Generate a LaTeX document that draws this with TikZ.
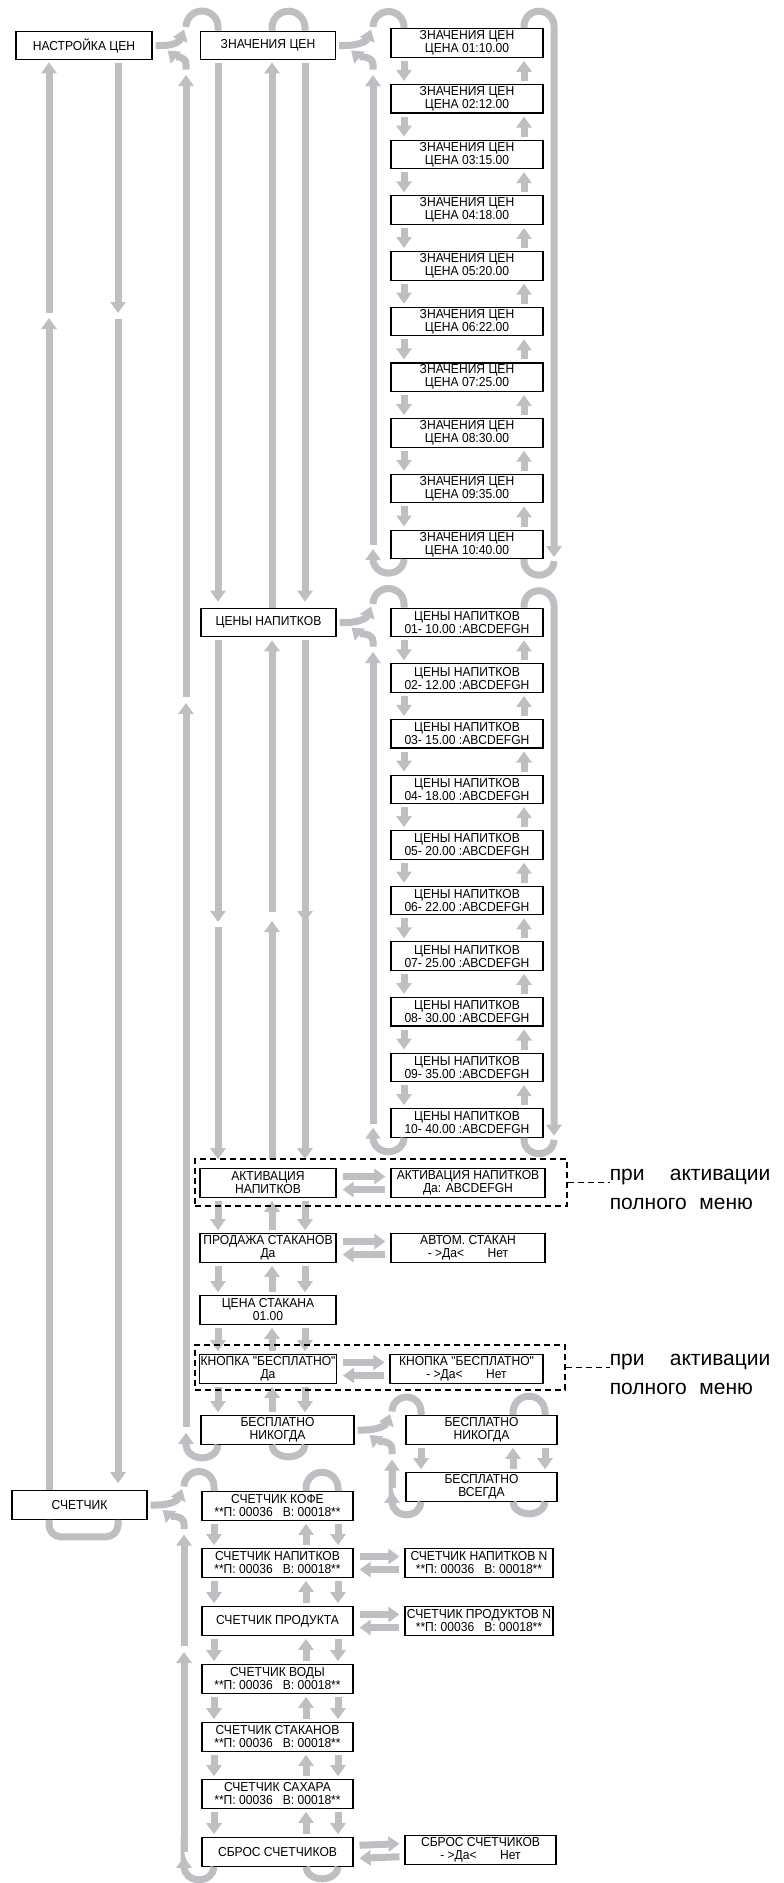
\documentclass[tikz,border=0pt]{standalone}
\usepackage{fontspec}
\setmainfont{Liberation Sans}
\newfontfamily\boxfont[FakeStretch=0.93]{Liberation Sans}
\usetikzlibrary{arrows.meta, calc, positioning}

\definecolor{flowgray}{RGB}{190,191,195}

% columns of the gray arrows
\def\xA{49} \def\xB{118}
\def\xPr{186} \def\xPd{218} \def\xPu{272} \def\xPw{305}
\def\xLr{373} \def\xLd{404} \def\xLu{524} \def\xLw{554}
\def\xCr{184} \def\xCd{214} \def\xCu{306} \def\xCw{338}
\def\xFr{392} \def\xFd{421} \def\xFu{513} \def\xFw{545}

\newcommand{\cntval}{**П: 00036\ \ \ В: 00018**}
\newcommand{\yesno}{- >Да<\hspace{1.8em}Нет}
\newcommand{\notetext}{при\hspace{1.2em}активации\\полного\hspace{0.6em}меню}

\tikzset{
  mbox/.style = {rectangle, draw, fill=white, line width=1.1pt, inner sep=1pt, minimum height=28.5pt, align=center, font=\boxfont\fontsize{13}{13}\selectfont},
  lbox/.style = {mbox, minimum width=152pt},
  flow/.style = {draw=flowgray, line width=7pt},
  flowa/.style = {flow, -{Triangle[width=15pt,length=11pt]}},
  dashbox/.style = {draw, dash pattern=on 6pt off 4pt, line width=1.3pt},
  note/.style = {anchor=west, align=left, inner sep=0pt, font=\fontsize{21}{29}\selectfont},
}

% entry into a submenu and the way back
\newcommand{\menufork}[5]{%
  \draw[flowa] ([xshift=3pt]#1.east) -- ++(7,0) .. controls +(13,0) and +(-4,11) .. ($(#3,0 |- #1.east)+(-2,-16)$);
  \draw[flow] ($(#3,0 |- #1.east)+(0,-18.5)$) arc (180:360:#5) -- (#4,0 |- #2.north);
  \draw[flowa] ($(#3,0 |- #1.east)+(0,24)$) -- ++(0,-5) .. controls +(0,-9) and +(7,6) .. ([shift={(15pt,-5pt)}]#1.east);
}
% down, up, down between two boxes
\newcommand{\steps}[5]{%
  \draw[flowa, shorten <=3pt, shorten >=3pt] (#3,0 |- #1.south) -- (#3,0 |- #2.north);
  \draw[flowa, shorten <=3pt, shorten >=3pt] (#4,0 |- #2.north) -- (#4,0 |- #1.south);
  \draw[flowa, shorten <=3pt, shorten >=3pt] (#5,0 |- #1.south) -- (#5,0 |- #2.north);
}
% right and left arrows to a side box
\newcommand{\sidepair}[2]{%
  \draw[flowa, shorten <=6pt, shorten >=5pt] ([yshift=6.5pt]#1.east) -- ([yshift=6.5pt]#2.west);
  \draw[flowa, shorten <=5pt, shorten >=6pt] ([yshift=-6.5pt]#2.west) -- ([yshift=-6.5pt]#1.east);
}
% loops of a ten item list
\newcommand{\listloops}[2]{%
  \menufork{#2}{#11}{\xLr}{\xLd}{15.5}
  \foreach \i [evaluate=\i as \j using int(\i+1)] in {1,...,9}{
    \draw[flowa, shorten <=3pt, shorten >=3pt] (\xLd,0 |- #1\i.south) -- (\xLd,0 |- #1\j.north);
    \draw[flowa, shorten <=3pt, shorten >=3pt] (\xLu,0 |- #1\j.north) -- (\xLu,0 |- #1\i.south);
  }
  \draw[flowa, shorten >=2pt] (\xLu,0 |- #11.north) -- ++(0,-2) arc (180:360:15) -- (\xLw,0 |- #110.south);
  \draw[flow] ($(\xLw,0 |- #110.south)+(0,2)$) arc (0:180:15 and 14) -- (\xLu,0 |- #110.south);
  \draw[flowa] (\xLd,0 |- #110.south) arc (0:180:15.5 and 14) -- ++(0,-10);
  \draw[flowa] ($(\xLr,0 |- #110.south)+(0,-14)$) -- ($(\xLr,0 |- #2.east)+(0,29.5)$);
}

\begin{document}
\begin{tikzpicture}[x=1pt, y=-1pt]
\useasboundingbox (0,0) rectangle (784,1883);

% main menu
\node[mbox, minimum width=136pt] (nastr) at (84,45.5) {НАСТРОЙКА ЦЕН};
\node[mbox, minimum width=135pt] (schet) at (79.5,1505) {СЧЕТЧИК};

% price settings
\node[mbox, minimum width=135pt] (znach) at (268,45.5) {ЗНАЧЕНИЯ ЦЕН};
\node[mbox, minimum width=135pt] (ceny) at (268.5,622.5) {ЦЕНЫ НАПИТКОВ};
\node[mbox, minimum width=136pt] (aktiv) at (268,1183) {АКТИВАЦИЯ\\НАПИТКОВ};
\node[mbox, minimum width=136pt] (prod) at (268,1248) {ПРОДАЖА СТАКАНОВ\\Да};
\node[mbox, minimum width=136pt] (cenast) at (268,1310) {ЦЕНА СТАКАНА\\01.00};
\node[mbox, minimum width=136pt] (knopka) at (268,1369) {КНОПКА "БЕСПЛАТНО"\\Да};
\node[mbox, minimum width=153pt] (besp) at (277.5,1430) {БЕСПЛАТНО\\НИКОГДА};

\node[mbox, minimum width=154pt] (aktivR) at (468,1183) {АКТИВАЦИЯ НАПИТКОВ\\Да: ABCDEFGH};
\node[mbox, minimum width=154pt] (prodR) at (468,1248) {АВТОМ. СТАКАН\\\yesno};
\node[mbox, minimum width=153pt] (knopkaR) at (466.5,1369) {КНОПКА "БЕСПЛАТНО"\\\yesno};
\node[mbox, minimum width=151pt] (bespN) at (481.5,1430) {БЕСПЛАТНО\\НИКОГДА};
\node[mbox, minimum width=151pt] (bespV) at (481.5,1487) {БЕСПЛАТНО\\ВСЕГДА};

\foreach \idx/\val [count=\i] in {01/10.00, 02/12.00, 03/15.00, 04/18.00, 05/20.00, 06/22.00, 07/25.00, 08/30.00, 09/35.00, 10/40.00}{
  \node[lbox] (z\i) at (467,{43+55.7*(\i-1)}) {ЗНАЧЕНИЯ ЦЕН\\ЦЕНА \idx:\val};
  \node[lbox] (p\i) at (467,{622.5+55.6*(\i-1)}) {ЦЕНЫ НАПИТКОВ\\\idx- \val\ :ABCDEFGH};
}

% counters
\node[mbox, minimum width=151pt] (kofe) at (277.5,1506) {СЧЕТЧИК КОФЕ\\\cntval};
\node[mbox, minimum width=151pt] (napit) at (277.5,1563) {СЧЕТЧИК НАПИТКОВ\\\cntval};
\node[mbox, minimum width=151pt] (produkt) at (277.5,1621) {СЧЕТЧИК ПРОДУКТА};
\node[mbox, minimum width=151pt] (vody) at (277.5,1679) {СЧЕТЧИК ВОДЫ\\\cntval};
\node[mbox, minimum width=151pt] (stakan) at (277.5,1737) {СЧЕТЧИК СТАКАНОВ\\\cntval};
\node[mbox, minimum width=151pt] (sahar) at (277.5,1794) {СЧЕТЧИК САХАРА\\\cntval};
\node[mbox, minimum width=151pt] (sbros) at (277.5,1852) {СБРОС СЧЕТЧИКОВ};

\node[mbox, minimum width=148pt] (napitR) at (479,1563) {СЧЕТЧИК НАПИТКОВ N\\\cntval};
\node[mbox, minimum width=148pt] (produktR) at (479,1621) {СЧЕТЧИК ПРОДУКТОВ N\\\cntval};
\node[mbox, minimum width=151pt] (sbrosR) at (480.5,1850) {СБРОС СЧЕТЧИКОВ\\\yesno};

% split points of long arrows
\coordinate (s0) at (0,316);
\coordinate (s1) at (0,703);
\coordinate (s2) at (0,918);
\coordinate (s3) at (0,1650);

% main menu loop
\draw[flowa, shorten >=2pt] (\xA,0 |- schet.north) -- (\xA,0 |- s0);
\draw[flowa, shorten <=3pt, shorten >=2pt] (\xA,0 |- s0) -- (\xA,0 |- nastr.south);
\draw[flowa, shorten <=3pt, shorten >=3pt] (\xB,0 |- nastr.south) -- (\xB,0 |- s0);
\draw[flowa, shorten <=3pt, shorten >=7pt] (\xB,0 |- s0) -- (\xB,0 |- schet.north);
\draw[flow, rounded corners=12pt] (\xA,0 |- schet.south) -- ($(\xA,0 |- schet.south)+(0,17)$) -- ($(\xB,0 |- schet.south)+(0,17)$) -- (\xB,0 |- schet.south);

% price settings
\menufork{nastr}{znach}{\xPr}{\xPd}{16}
\draw[flow] (\xPu,0 |- znach.north) -- ++(0,-3) arc (180:360:16.5) -- (\xPw,0 |- znach.north);
\draw[flowa, shorten <=3pt, shorten >=6pt] (\xPd,0 |- znach.south) -- (\xPd,0 |- ceny.north);
\draw[flowa, shorten >=2pt] (\xPu,0 |- ceny.north) -- (\xPu,0 |- znach.south);
\draw[flowa, shorten <=3pt, shorten >=6pt] (\xPw,0 |- znach.south) -- (\xPw,0 |- ceny.north);
\draw[flowa, shorten <=9pt, shorten >=9pt] (\xPd,0 |- s2) -- (\xPd,0 |- aktiv.north);
\draw[flowa, shorten <=3pt, shorten >=-4pt] (\xPd,0 |- ceny.south) -- (\xPd,0 |- s2);
\draw[flowa, shorten <=9pt, shorten >=3pt] (\xPu,0 |- aktiv.north) -- (\xPu,0 |- s2);
\draw[flowa, shorten <=6pt, shorten >=3pt] (\xPu,0 |- s2) -- (\xPu,0 |- ceny.south);
\draw[flowa, shorten >=9pt] (\xPw,0 |- s2) -- (\xPw,0 |- aktiv.north);
\draw[flowa, shorten <=3pt, shorten >=-4pt] (\xPw,0 |- ceny.south) -- (\xPw,0 |- s2);
\steps{aktiv}{prod}{\xPd}{\xPu}{\xPw}
\steps{prod}{cenast}{\xPd}{\xPu}{\xPw}
\steps{cenast}{knopka}{\xPd}{\xPu}{\xPw}
\steps{knopka}{besp}{\xPd}{\xPu}{\xPw}
\draw[flowa] (\xPd,0 |- besp.south) arc (0:180:16 and 13) -- ++(0,-12);
\draw[flow] (\xPu,0 |- besp.south) arc (180:0:16.5 and 12);
\draw[flowa, shorten <=3pt] (\xPr,0 |- besp.center) -- (\xPr,0 |- s1);
\draw[flowa, shorten <=6pt] (\xPr,0 |- s1) -- ($(\xPr,0 |- znach.east)+(0,29.5)$);

\sidepair{aktiv}{aktivR}
\sidepair{prod}{prodR}
\sidepair{knopka}{knopkaR}

% price lists
\listloops{z}{znach}
\listloops{p}{ceny}

% free button values
\menufork{besp}{bespN}{\xFr}{\xFd}{14.5}
\draw[flow] (\xFu,0 |- bespN.north) -- ++(0,-3) arc (180:360:16) -- (\xFw,0 |- bespN.north);
\steps{bespN}{bespV}{\xFd}{\xFu}{\xFw}
\draw[flowa] (\xFd,0 |- bespV.south) arc (0:180:14.5 and 13) -- ++(0,-10);
\draw[flow] (\xFu,0 |- bespV.south) arc (180:0:16 and 12);
\draw[flowa] ($(\xFr,0 |- bespV.south)+(0,-14)$) -- ($(\xFr,0 |- besp.east)+(0,29.5)$);

% counters
\menufork{schet}{kofe}{\xCr}{\xCd}{15}
\draw[flow] (\xCu,0 |- kofe.north) -- ++(0,-3) arc (180:360:16) -- (\xCw,0 |- kofe.north);
\steps{kofe}{napit}{\xCd}{\xCu}{\xCw}
\steps{napit}{produkt}{\xCd}{\xCu}{\xCw}
\steps{produkt}{vody}{\xCd}{\xCu}{\xCw}
\steps{vody}{stakan}{\xCd}{\xCu}{\xCw}
\steps{stakan}{sahar}{\xCd}{\xCu}{\xCw}
\steps{sahar}{sbros}{\xCd}{\xCu}{\xCw}
\draw[flowa] (\xCd,0 |- sbros.south) arc (0:180:15 and 13) -- ++(0,-10);
\draw[flow] (\xCu,0 |- sbros.south) arc (180:0:16 and 12);
\draw[flowa] ($(\xCr,0 |- sbros.south)+(0,-15)$) -- ($(\xCr,0 |- s3)+(0,2)$);
\draw[flowa] ($(\xCr,0 |- s3)+(0,-4)$) -- ($(\xCr,0 |- schet.east)+(0,29.5)$);

\sidepair{napit}{napitR}
\sidepair{produkt}{produktR}
\sidepair{sbros}{sbrosR}

% full menu groups
\node[dashbox, minimum width=372pt, minimum height=47pt] (grp1) at (381,1182.5) {};
\node[dashbox, minimum width=370pt, minimum height=45pt] (grp2) at (380,1367.5) {};
\node[note] (note1) at ([shift={(42pt,-7pt)}]grp1.east) {\notetext};
\node[note] (note2) at ([shift={(44pt,-7pt)}]grp2.east) {\notetext};
\draw[dashbox] (grp1.east) -- (note1.west |- grp1.east);
\draw[dashbox] (grp2.east) -- (note2.west |- grp2.east);
\end{tikzpicture}
\end{document}
